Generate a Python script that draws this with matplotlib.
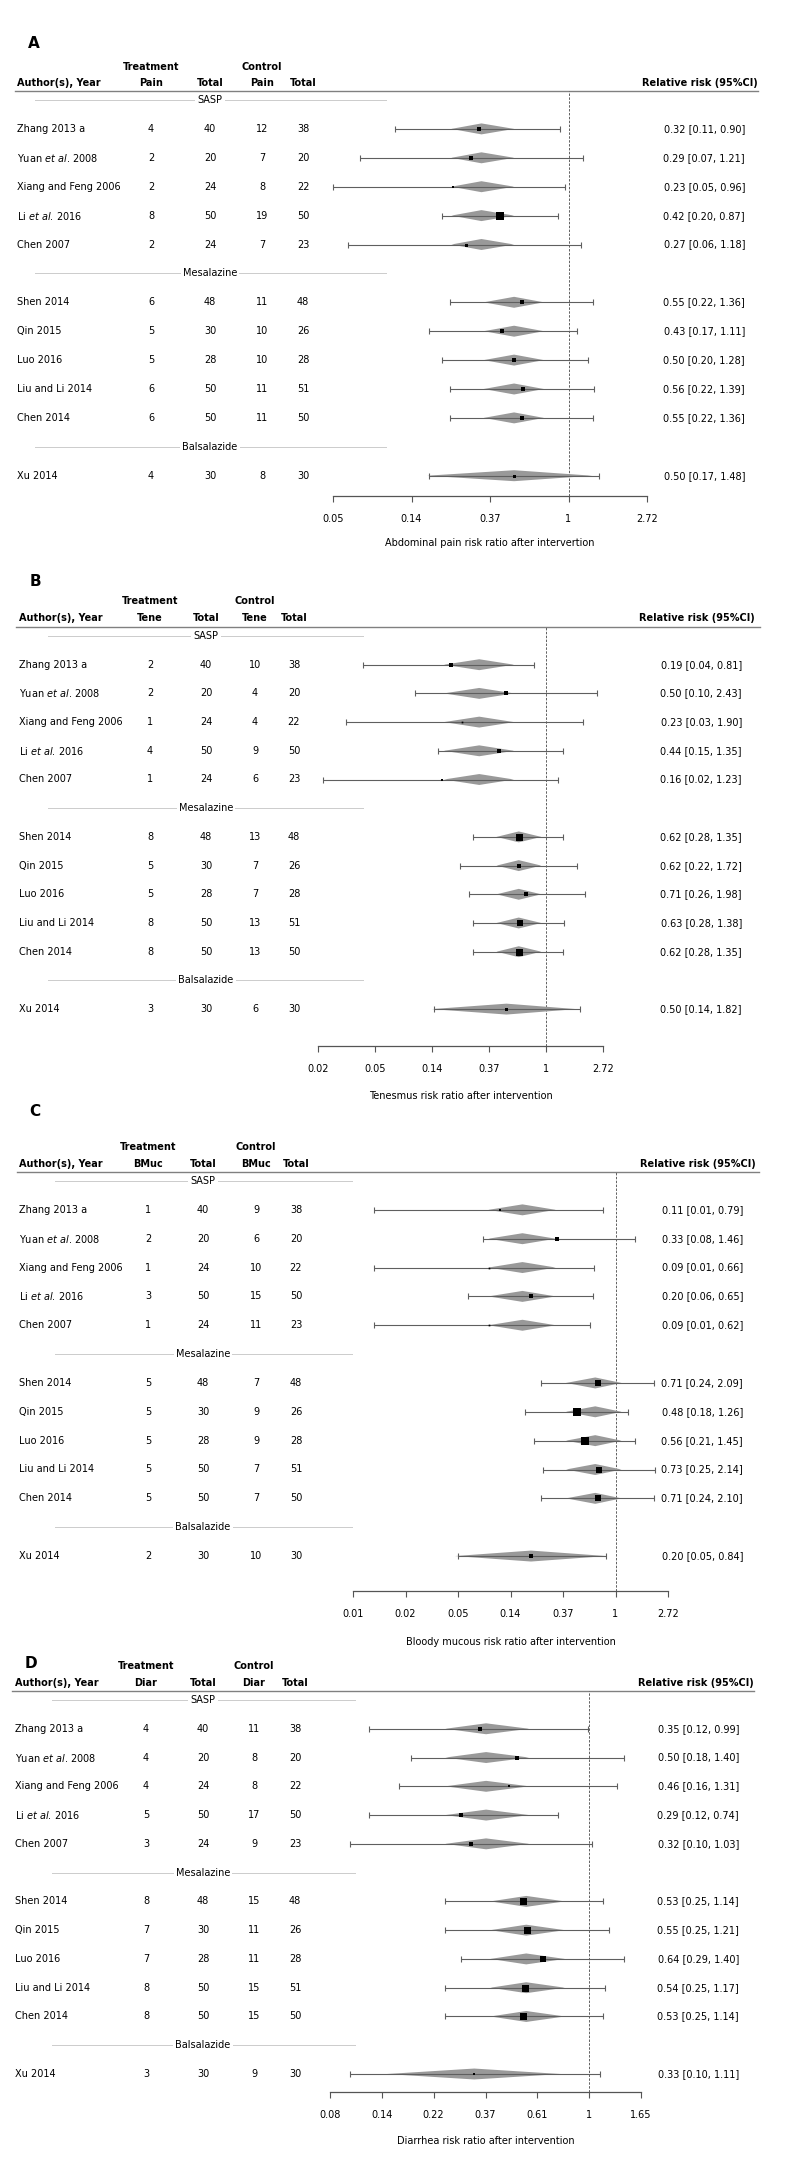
import numpy as np
import matplotlib.pyplot as plt

plt.rcParams['font.family'] = 'DejaVu Sans'
plt.rcParams['mathtext.fontset'] = 'dejavusans'

W, H = 786, 2161

# ---------------------------------------------------------------- data
authors = ["Zhang 2013 a", r"Yuan $\mathit{et\ al}$. 2008", "Xiang and Feng 2006",
           r"Li $\mathit{et\ al}$. 2016", "Chen 2007",
           "Shen 2014", "Qin 2015", "Luo 2016", "Liu and Li 2014", "Chen 2014",
           "Xu 2014"]
groups = ["SASP", "Mesalazine", "Balsalazide"]
study_group = [0, 0, 0, 0, 0, 1, 1, 1, 1, 1, 2]

n_trt = [40, 20, 24, 50, 24, 48, 30, 28, 50, 50, 30]
n_ctl = [38, 20, 22, 50, 23, 48, 26, 28, 51, 50, 30]

# A - abdominal pain
a_trt = [4, 2, 2, 8, 2, 6, 5, 5, 6, 6, 4]
a_ctl = [12, 7, 8, 19, 7, 11, 10, 10, 11, 11, 8]
a_rr = [0.32, 0.29, 0.23, 0.42, 0.27, 0.55, 0.43, 0.50, 0.56, 0.55, 0.50]
a_lo = [0.11, 0.07, 0.05, 0.20, 0.06, 0.22, 0.17, 0.20, 0.22, 0.22, 0.17]
a_hi = [0.90, 1.21, 0.96, 0.87, 1.18, 1.36, 1.11, 1.28, 1.39, 1.36, 1.48]
a_wt = [25, 12, 6, 64, 9, 25, 25, 20, 20, 25, 9]
a_dmid = [0.33, 0.50, 0.50]
a_dlo = [0.225, 0.34, 0.165]
a_dhi = [0.50, 0.73, 1.35]

# B - tenesmus
b_trt = [2, 2, 1, 4, 1, 8, 5, 5, 8, 8, 3]
b_ctl = [10, 4, 4, 9, 6, 13, 7, 7, 13, 13, 6]
b_rr = [0.19, 0.50, 0.23, 0.44, 0.16, 0.62, 0.62, 0.71, 0.63, 0.62, 0.50]
b_lo = [0.04, 0.10, 0.03, 0.15, 0.02, 0.28, 0.22, 0.26, 0.28, 0.28, 0.14]
b_hi = [0.81, 2.43, 1.90, 1.35, 1.23, 1.35, 1.72, 1.98, 1.38, 1.35, 1.82]
b_wt = [14, 12, 3, 16, 4, 49, 25, 25, 36, 49, 9]
b_dmid = [0.31, 0.62, 0.50]
b_dlo = [0.167, 0.42, 0.135]
b_dhi = [0.57, 0.92, 1.70]

# C - bloody mucous
c_trt = [1, 2, 1, 3, 1, 5, 5, 5, 5, 5, 2]
c_ctl = [9, 6, 10, 15, 11, 7, 9, 9, 7, 7, 10]
c_rr = [0.11, 0.33, 0.09, 0.20, 0.09, 0.71, 0.48, 0.56, 0.73, 0.71, 0.20]
c_lo = [0.01, 0.08, 0.01, 0.06, 0.01, 0.24, 0.18, 0.21, 0.25, 0.24, 0.05]
c_hi = [0.79, 1.46, 0.66, 0.65, 0.62, 2.09, 1.26, 1.45, 2.14, 2.10, 0.84]
c_wt = [4, 12, 3, 25, 3, 36, 64, 56, 30, 36, 20]
c_dmid = [0.17, 0.68, 0.20]
c_dlo = [0.089, 0.39, 0.047]
c_dhi = [0.32, 1.12, 0.84]

# D - diarrhea
d_trt = [4, 4, 4, 5, 3, 8, 7, 7, 8, 8, 3]
d_ctl = [11, 8, 8, 17, 9, 15, 11, 11, 15, 15, 9]
d_rr = [0.35, 0.50, 0.46, 0.29, 0.32, 0.53, 0.55, 0.64, 0.54, 0.53, 0.33]
d_lo = [0.12, 0.18, 0.16, 0.12, 0.10, 0.25, 0.25, 0.29, 0.25, 0.25, 0.10]
d_hi = [0.99, 1.40, 1.31, 0.74, 1.03, 1.14, 1.21, 1.40, 1.17, 1.14, 1.11]
d_wt = [16, 16, 4, 20, 12, 49, 49, 30, 49, 49, 4]
d_dmid = [0.37, 0.545, 0.33]
d_dlo = [0.25, 0.386, 0.142]
d_dhi = [0.56, 0.79, 0.76]

# ---------------------------------------------------------------- layout (pixels)
panels = [
    dict(letter="A", lxy=(28, 43), y_top=67, y_head=83, y_line=91, line_x=(15, 758),
         sep0=100, pitch=28.9, cols=[151, 210, 262, 303], ax_x=17, sep_x=(35, 387),
         rr_right=745, head_right=758, axis_px=(333, 647), ln=(-3, 1, 1), axis_y=496,
         lab_y=543, ev="Pain", xlabel="Abdominal pain risk ratio after intervertion",
         data=(a_trt, a_ctl, a_rr, a_lo, a_hi, a_wt, a_dmid, a_dlo, a_dhi)),
    dict(letter="B", lxy=(30, 582), y_top=601, y_head=618, y_line=627, line_x=(16, 760),
         sep0=636, pitch=28.7, cols=[150, 206, 255, 294], ax_x=19, sep_x=(48, 363),
         rr_right=742, head_right=755, axis_px=(318, 603), ln=(-4, 1, 1), axis_y=1046,
         lab_y=1096, ev="Tene", xlabel="Tenesmus risk ratio after intervention",
         data=(b_trt, b_ctl, b_rr, b_lo, b_hi, b_wt, b_dmid, b_dlo, b_dhi)),
    dict(letter="C", lxy=(29, 1112), y_top=1147, y_head=1164, y_line=1172, line_x=(17, 759),
         sep0=1181, pitch=28.85, cols=[148, 203, 256, 296], ax_x=19, sep_x=(55, 353),
         rr_right=743, head_right=756, axis_px=(353, 668), ln=(-5, 1, 1), axis_y=1591,
         lab_y=1642, ev="BMuc", xlabel="Bloody mucous risk ratio after intervention",
         data=(c_trt, c_ctl, c_rr, c_lo, c_hi, c_wt, c_dmid, c_dlo, c_dhi)),
    dict(letter="D", lxy=(25, 1663), y_top=1666, y_head=1683, y_line=1691, line_x=(12, 754),
         sep0=1700, pitch=28.77, cols=[146, 203, 254, 295], ax_x=15, sep_x=(52, 356),
         rr_right=739, head_right=754, axis_px=(330, 641), ln=(-2.5, 0.5, 0.5), axis_y=2092,
         lab_y=2141, ev="Diar", xlabel="Diarrhea risk ratio after intervention",
         data=(d_trt, d_ctl, d_rr, d_lo, d_hi, d_wt, d_dmid, d_dlo, d_dhi)),
]

FS = 7.0
LINE_C = "#5f5f5f"
DIA_C = "#999999"

fig = plt.figure(figsize=(W / 100, H / 100), dpi=100)
tx = fig.add_axes([0, 0, 1, 1])
tx.set_xlim(0, W)
tx.set_ylim(H, 0)
tx.axis("off")

# slot index of separators and studies
sep_slots, row_slots = [], []
s = 0
for g in range(len(groups)):
    sep_slots.append(s)
    s += 1
    for i, sg in enumerate(study_group):
        if sg == g:
            row_slots.append(s)
            s += 1


def tick_label(v):
    return "1" if abs(v - 1) < 1e-9 else f"{v:.2f}"


for p in panels:
    trt, ctl, rr, lo, hi, wt, dmid, dlo, dhi = p["data"]
    ypx = lambda sl: p["sep0"] + sl * p["pitch"]
    cols = p["cols"]

    # headers
    tx.text(*p["lxy"], p["letter"], fontsize=11, fontweight="bold", va="center", ha="left")
    tx.text(cols[0], p["y_top"], "Treatment", fontsize=FS, fontweight="bold", ha="center", va="center")
    tx.text(cols[2], p["y_top"], "Control", fontsize=FS, fontweight="bold", ha="center", va="center")
    tx.text(p["ax_x"], p["y_head"], "Author(s), Year", fontsize=FS, fontweight="bold", va="center")
    for c, lab in zip(cols, [p["ev"], "Total", p["ev"], "Total"]):
        tx.text(c, p["y_head"], lab, fontsize=FS, fontweight="bold", ha="center", va="center")
    tx.text(p["head_right"], p["y_head"], "Relative risk (95%CI)", fontsize=FS,
            fontweight="bold", ha="right", va="center")
    tx.plot(p["line_x"], [p["y_line"]] * 2, color="#808080", lw=1.0)

    # subgroup separators
    for g, sl in zip(groups, sep_slots):
        y = ypx(sl)
        tx.plot(p["sep_x"], [y, y], color="#8a8a8a", lw=0.6, ls=(0, (1.2, 1.2)))
        tx.text(cols[1], y, g, fontsize=FS, ha="center", va="center",
                bbox=dict(facecolor="white", edgecolor="none", pad=1.5))

    # table rows
    for i, sl in enumerate(row_slots):
        y = ypx(sl)
        tx.text(p["ax_x"], y, authors[i], fontsize=FS, va="center")
        for c, v in zip(cols, [trt[i], n_trt[i], ctl[i], n_ctl[i]]):
            tx.text(c, y, str(v), fontsize=FS, ha="center", va="center")
        tx.text(p["rr_right"], y, f"{rr[i]:.2f} [{lo[i]:.2f}, {hi[i]:.2f}]",
                fontsize=FS, ha="right", va="center")

    # forest axes
    x0, x1 = p["axis_px"]
    fa = fig.add_axes([x0 / W, 1 - p["axis_y"] / H, (x1 - x0) / W, (p["axis_y"] - p["y_line"]) / H])
    fa.set_facecolor("none")
    fa.set_xscale("log")
    l0, l1, st = p["ln"]
    fa.set_xlim(np.exp(l0), np.exp(l1))
    fa.set_ylim((p["axis_y"] - p["sep0"]) / p["pitch"], (p["y_line"] - p["sep0"]) / p["pitch"])
    for sp in ["top", "left", "right"]:
        fa.spines[sp].set_visible(False)
    fa.spines["bottom"].set_color("#555555")
    fa.spines["bottom"].set_linewidth(0.9)
    ticks = np.exp(np.arange(l0, l1 + st / 2, st))
    fa.set_xticks(ticks)
    fa.set_xticklabels([tick_label(v) for v in ticks], fontsize=FS)
    fa.xaxis.set_minor_locator(plt.NullLocator())
    fa.tick_params(axis="x", direction="out", length=4, width=0.8, color="#555555", pad=9)
    fa.set_yticks([])
    fa.axvline(1, color="#606060", lw=0.7, ls=(0, (2.5, 1.5)))

    hh = 0.19
    for i, sl in enumerate(row_slots):
        g = study_group[i]
        fa.fill([dlo[g], dmid[g], dhi[g], dmid[g]], [sl, sl - hh, sl, sl + hh],
                color=DIA_C, lw=0, zorder=2, clip_on=False)
        fa.errorbar(rr[i], sl, xerr=[[rr[i] - lo[i]], [hi[i] - rr[i]]], fmt="none",
                    ecolor=LINE_C, elinewidth=0.8, capsize=2.3, capthick=0.8,
                    zorder=3, clip_on=False)
        fa.plot(rr[i], sl, marker="s", color="black", ms=np.sqrt(wt[i]) * 0.72,
                mew=0, zorder=4, clip_on=False)

    tx.text((x0 + x1) / 2, p["lab_y"], p["xlabel"], fontsize=FS, ha="center", va="center")

fig.savefig("out.png", dpi=100)
